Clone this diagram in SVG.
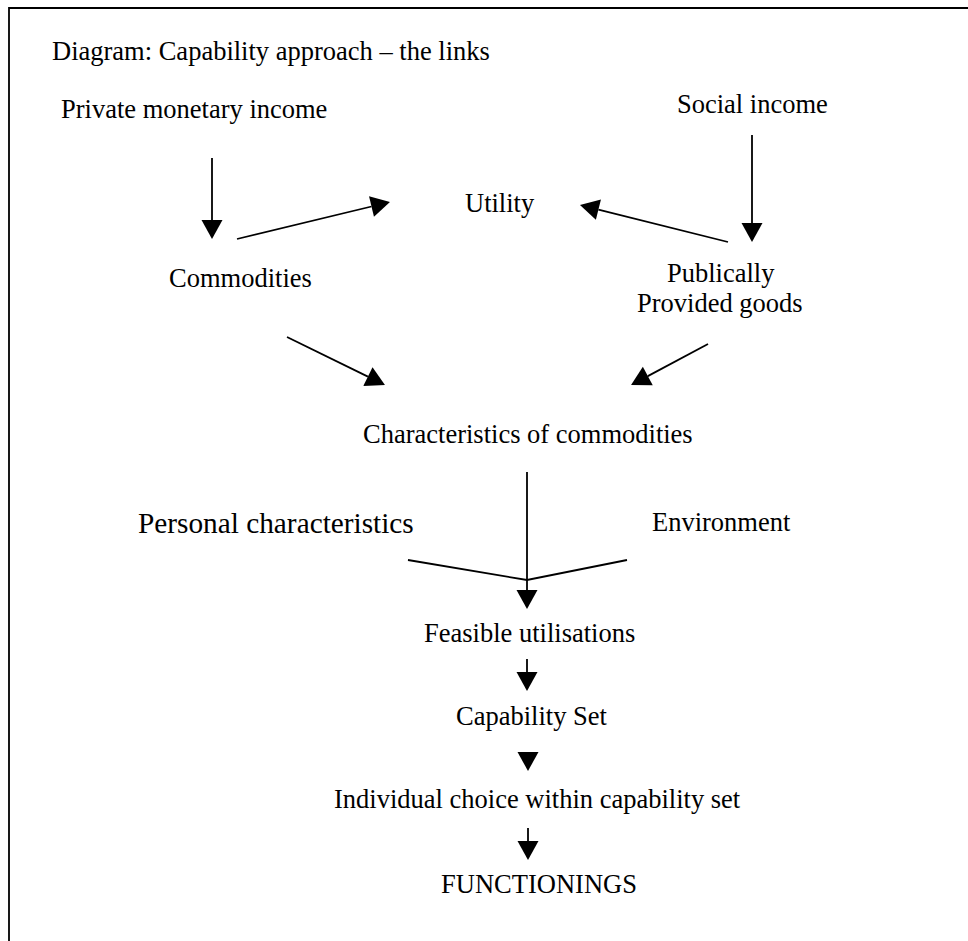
<svg xmlns="http://www.w3.org/2000/svg" width="968" height="941" viewBox="0 0 968 941">
  <style>
    text { font-family: "Liberation Serif", "Times New Roman", serif; font-size: 26.5px; fill: #000; }
    .big { font-size: 29.3px; }
    .frame { stroke: #000; stroke-width: 1.8; fill: none; }
    .link { stroke: #000; stroke-width: 1.8; fill: none; }
    .arrow { marker-end: url(#head); }
    .bare { stroke: none; }
  </style>
  <defs>
    <marker id="head" markerUnits="userSpaceOnUse" markerWidth="20" markerHeight="22" refX="0" refY="10.5" orient="auto" overflow="visible">
      <path d="M0,0 L19,10.5 L0,21 Z" fill="#000"/>
    </marker>
  </defs>
  <rect width="968" height="941" fill="#fff"/>

  <!-- page frame: top and left rules only -->
  <path class="frame" d="M9,941 L9,8 L968,8"/>

  <g id="title"><text x="52" y="60">Diagram: Capability approach – the links</text></g>

  <g id="private-income"><text x="61" y="118">Private monetary income</text></g>
  <g id="social-income"><text x="677" y="113">Social income</text></g>
  <g id="utility"><text x="465" y="212">Utility</text></g>
  <g id="commodities"><text x="169" y="287">Commodities</text></g>
  <g id="public-goods">
    <text x="667" y="282">Publically</text>
    <text x="637" y="312">Provided goods</text>
  </g>
  <g id="characteristics"><text x="363" y="443">Characteristics of commodities</text></g>
  <g id="personal"><text class="big" x="138" y="533">Personal characteristics</text></g>
  <g id="environment"><text x="652" y="531">Environment</text></g>
  <g id="feasible"><text x="424" y="642">Feasible utilisations</text></g>
  <g id="capability-set"><text x="456" y="725">Capability Set</text></g>
  <g id="choice"><text x="334" y="808">Individual choice within capability set</text></g>
  <g id="functionings"><text x="441" y="893" textLength="196" lengthAdjust="spacingAndGlyphs">FUNCTIONINGS</text></g>

  <g id="connectors">
    <path class="link arrow" d="M212,158 L212,220"/>
    <path class="link arrow" d="M752,135 L752,223"/>
    <path class="link arrow" d="M237,239 L371.5,206.5"/>
    <path class="link arrow" d="M728,242 L598.4,209.6"/>
    <path class="link arrow" d="M287,337 L367.9,376.6"/>
    <path class="link arrow" d="M708,344 L647.8,376.1"/>
    <path class="link arrow" d="M527,472 L527,590"/>
    <path class="link" d="M408,560 L527,580 L627,560"/>
    <path class="link arrow" d="M527,659 L527,672"/>
    <path class="link arrow bare" d="M528,751.5 L528,752"/>
    <path class="link arrow" d="M528,828 L528,841"/>
  </g>
</svg>
